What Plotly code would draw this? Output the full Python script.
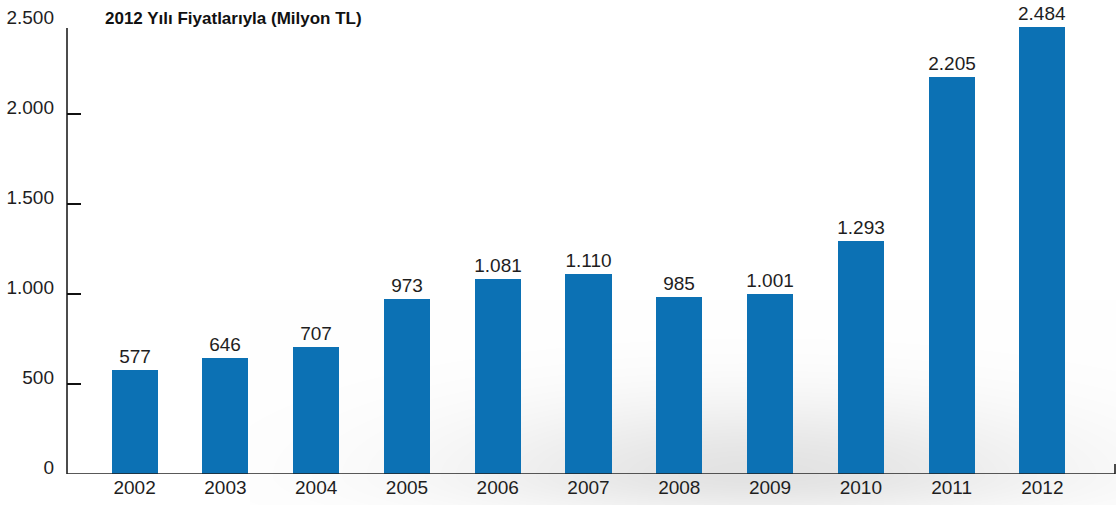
import base64
import struct
import zlib

import numpy as np
import plotly.graph_objects as go

# Data
years = ["2002", "2003", "2004", "2005", "2006", "2007", "2008", "2009", "2010", "2011", "2012"]
values = [577, 646, 707, 973, 1081, 1110, 985, 1001, 1293, 2205, 2484]
y_ticks = [0, 500, 1000, 1500, 2000, 2500]
title_text = "2012 Yılı Fiyatlarıyla (Milyon TL)"

W, H = 1116, 505
M_L, M_R, M_T, M_B = 67, 1, 24, 31
BAR_COLOR = "#0c71b4"
TEXT_COLOR = "#1e1e1e"
FONT = "Liberation Sans, Arial, sans-serif"
FS = 19


def png_data_uri(gray):
    """Encode an 8-bit grayscale array as a PNG data URI."""
    h, w = gray.shape
    raw = b"".join(b"\x00" + gray[r].tobytes() for r in range(h))

    def chunk(tag, data):
        c = struct.pack(">I", len(data)) + tag + data
        return c + struct.pack(">I", zlib.crc32(tag + data) & 0xFFFFFFFF)

    png = b"\x89PNG\r\n\x1a\n"
    png += chunk(b"IHDR", struct.pack(">IIBBBBB", w, h, 8, 0, 0, 0, 0))
    png += chunk(b"IDAT", zlib.compress(raw, 9))
    png += chunk(b"IEND", b"")
    return "data:image/png;base64," + base64.b64encode(png).decode()


# Soft floor shadow behind the right half of the chart
sx0, sx1, sy0, sy1 = 250, W, 300, H
xs = np.arange(sx0, sx1)[None, :].astype(float)
ys = np.arange(sy0, sy1)[:, None].astype(float)
gx = np.exp(-((xs - 760.0) / 300.0) ** 2)
base_y = 475.0
gy = np.where(ys < base_y,
              np.exp(-((ys - base_y) / 75.0) ** 2),
              np.exp(-((ys - base_y) / 40.0) ** 2))
dark = 0.11 * gx * gy
shadow = np.clip(255.0 * (1.0 - dark), 0, 255).astype(np.uint8)

plot_w = W - M_L - M_R
plot_h = H - M_T - M_B
x_range = [-0.745, 10.80]
y_range = [0, 2500]


def px_to_paper_x(px):
    return (px - M_L) / plot_w


def px_to_paper_y(py):
    return (H - M_B - py) / plot_h


fig = go.Figure()
fig.add_trace(go.Bar(
    x=list(range(len(years))),
    y=values,
    width=0.507,
    marker=dict(color=BAR_COLOR, line=dict(width=0)),
    texttemplate="%{y:,d}",
    textposition="outside",
    constraintext="none",
    textfont=dict(family=FONT, size=FS, color=TEXT_COLOR),
    cliponaxis=False,
    hoverinfo="skip",
))

fig.add_layout_image(dict(
    source=png_data_uri(shadow),
    xref="paper", yref="paper",
    x=px_to_paper_x(sx0), y=px_to_paper_y(sy0),
    sizex=(sx1 - sx0) / plot_w, sizey=(sy1 - sy0) / plot_h,
    xanchor="left", yanchor="top",
    sizing="stretch", layer="below",
))

# Vertical axis line (stops just short of the top tick)
fig.add_shape(type="line", xref="paper", yref="y",
              x0=0, x1=0, y0=0, y1=2478,
              line=dict(color="#111111", width=1.5))
# Baseline and its end tick
fig.add_shape(type="line", xref="paper", yref="y",
              x0=0, x1=1, y0=0, y1=0,
              line=dict(color="#222222", width=1.5))
fig.add_shape(type="line", xref="paper", yref="paper",
              x0=1, x1=1, y0=0, y1=px_to_paper_y(H - M_B - 10),
              line=dict(color="#111111", width=1.5))

fig.update_layout(
    width=W, height=H,
    margin=dict(l=M_L, r=M_R, t=M_T, b=M_B, pad=0),
    paper_bgcolor="white",
    plot_bgcolor="rgba(0,0,0,0)",
    separators=",.",
    showlegend=False,
    bargap=0,
    title=dict(
        text="<b>" + title_text + "</b>",
        x=105 / W, xanchor="left", xref="container",
        y=1 - 18 / H, yanchor="middle", yref="container",
        font=dict(family=FONT, size=17, color="#111111"),
    ),
    xaxis=dict(
        range=x_range,
        tickvals=list(range(len(years))),
        ticktext=years,
        showgrid=False, zeroline=False, showline=False,
        ticks="",
        tickfont=dict(family=FONT, size=FS, color=TEXT_COLOR),
        fixedrange=True,
    ),
    yaxis=dict(
        range=y_range,
        tickvals=y_ticks,
        tickformat=",d",
        showgrid=False, zeroline=False, showline=False,
        ticks="inside", ticklen=14, tickwidth=1.5, tickcolor="#111111",
        ticklabeloverflow="allow",
        ticklabelshift=-7,
        ticklabelstandoff=12,
        tickfont=dict(family=FONT, size=FS, color=TEXT_COLOR),
        fixedrange=True,
    ),
)

fig.write_html("out.html")
